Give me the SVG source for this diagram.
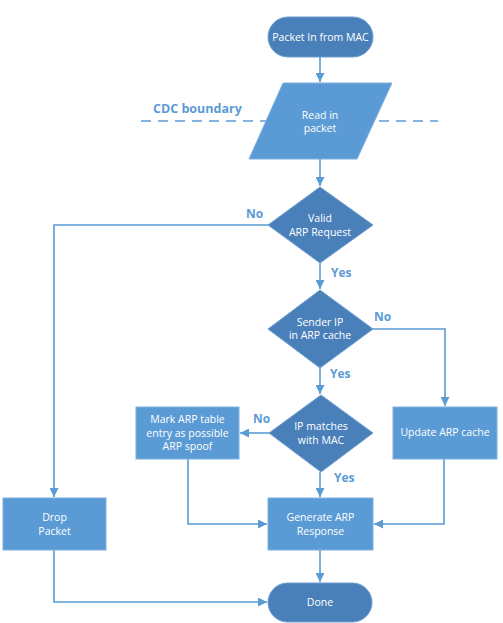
<svg xmlns="http://www.w3.org/2000/svg" width="503" height="623" viewBox="0 0 503 623">
<defs>
<marker id="ah" viewBox="0 0 10 10" refX="10" refY="5" markerWidth="9" markerHeight="9" markerUnits="userSpaceOnUse" orient="auto">
<path d="M0,0 L10,5 L0,10 z" fill="#5b9bd5"/>
</marker>
<style>
.t{font-family:"Open Sans","Noto Sans",sans-serif;font-size:10.5px;fill:#ffffff;text-anchor:middle;dominant-baseline:central}
.l{font-family:"Open Sans","Noto Sans",sans-serif;font-size:12px;font-weight:bold;fill:#5b9bd5;dominant-baseline:central}
.dark{fill:#4a80ba;stroke:#6f9ed2;stroke-width:1}
.light{fill:#5b9bd5;stroke:#7fb0e0;stroke-width:1}
.c{fill:none;stroke:#5b9bd5;stroke-width:1.6}
</style>
</defs>
<rect width="503" height="623" fill="#ffffff"/>
<g id="cdc">
<line x1="141" y1="121" x2="438" y2="121" stroke="#5b9bd5" stroke-width="1.5" stroke-dasharray="10,7"/>
<text class="l" x="153" y="108" style="font-size:12.5px">CDC boundary</text>
</g>
<g id="connectors">
<path class="c" d="M320,57 V82" marker-end="url(#ah)"/>
<path class="c" d="M320,159 V186" marker-end="url(#ah)"/>
<path class="c" d="M320,263 V289" marker-end="url(#ah)"/>
<path class="c" d="M320,368 V394" marker-end="url(#ah)"/>
<path class="c" d="M320,472 V497" marker-end="url(#ah)"/>
<path class="c" d="M320,550 V582" marker-end="url(#ah)"/>
<path class="c" d="M268,225 H54 V497" marker-end="url(#ah)"/>
<path class="c" d="M373,329 H445 V406" marker-end="url(#ah)"/>
<path class="c" d="M269,433 H240" marker-end="url(#ah)"/>
<path class="c" d="M188,459 V524 H267" marker-end="url(#ah)"/>
<path class="c" d="M444,459 V524 H374" marker-end="url(#ah)"/>
<path class="c" d="M54,550 V602 H267" marker-end="url(#ah)"/>
</g>
<g id="labels">
<text class="l" x="246" y="213">No</text>
<text class="l" x="331" y="272">Yes</text>
<text class="l" x="374" y="316">No</text>
<text class="l" x="330" y="373">Yes</text>
<text class="l" x="253" y="418">No</text>
<text class="l" x="334" y="477">Yes</text>
</g>
<g id="start">
<rect class="dark" x="268" y="17" width="105" height="40" rx="20"/>
<text class="t" x="320.5" y="37">Packet In from MAC</text>
</g>
<g id="read">
<polygon class="light" points="283,83 392,83 357,159 249,159"/>
<text class="t" x="320" y="115">Read in</text>
<text class="t" x="320" y="128">packet</text>
</g>
<g id="valid">
<polygon class="dark" points="320,187 373,225 320,263 268,225"/>
<text class="t" x="320" y="218">Valid</text>
<text class="t" x="320" y="232">ARP Request</text>
</g>
<g id="sender">
<polygon class="dark" points="320,290 373,329 320,368 268,329"/>
<text class="t" x="320" y="322">Sender IP</text>
<text class="t" x="320" y="335">in ARP cache</text>
</g>
<g id="ipmatch">
<polygon class="dark" points="321,395 373,433 321,472 269,433"/>
<text class="t" x="321" y="426">IP matches</text>
<text class="t" x="321" y="439.5">with MAC</text>
</g>
<g id="mark">
<rect class="light" x="136" y="407" width="103" height="52"/>
<text class="t" x="187.5" y="419">Mark ARP table</text>
<text class="t" x="187.5" y="432.5">entry as possible</text>
<text class="t" x="187.5" y="446">ARP spoof</text>
</g>
<g id="update">
<rect class="light" x="393" y="407" width="104" height="52"/>
<text class="t" x="445" y="432">Update ARP cache</text>
</g>
<g id="generate">
<rect class="light" x="268" y="498" width="105" height="52"/>
<text class="t" x="320.5" y="517">Generate ARP</text>
<text class="t" x="320.5" y="530.5">Response</text>
</g>
<g id="drop">
<rect class="light" x="3" y="498" width="103" height="52"/>
<text class="t" x="54.5" y="517">Drop</text>
<text class="t" x="54.5" y="530.5">Packet</text>
</g>
<g id="done">
<rect class="dark" x="268" y="583" width="104" height="39" rx="19.5"/>
<text class="t" x="320" y="602">Done</text>
</g>
</svg>
